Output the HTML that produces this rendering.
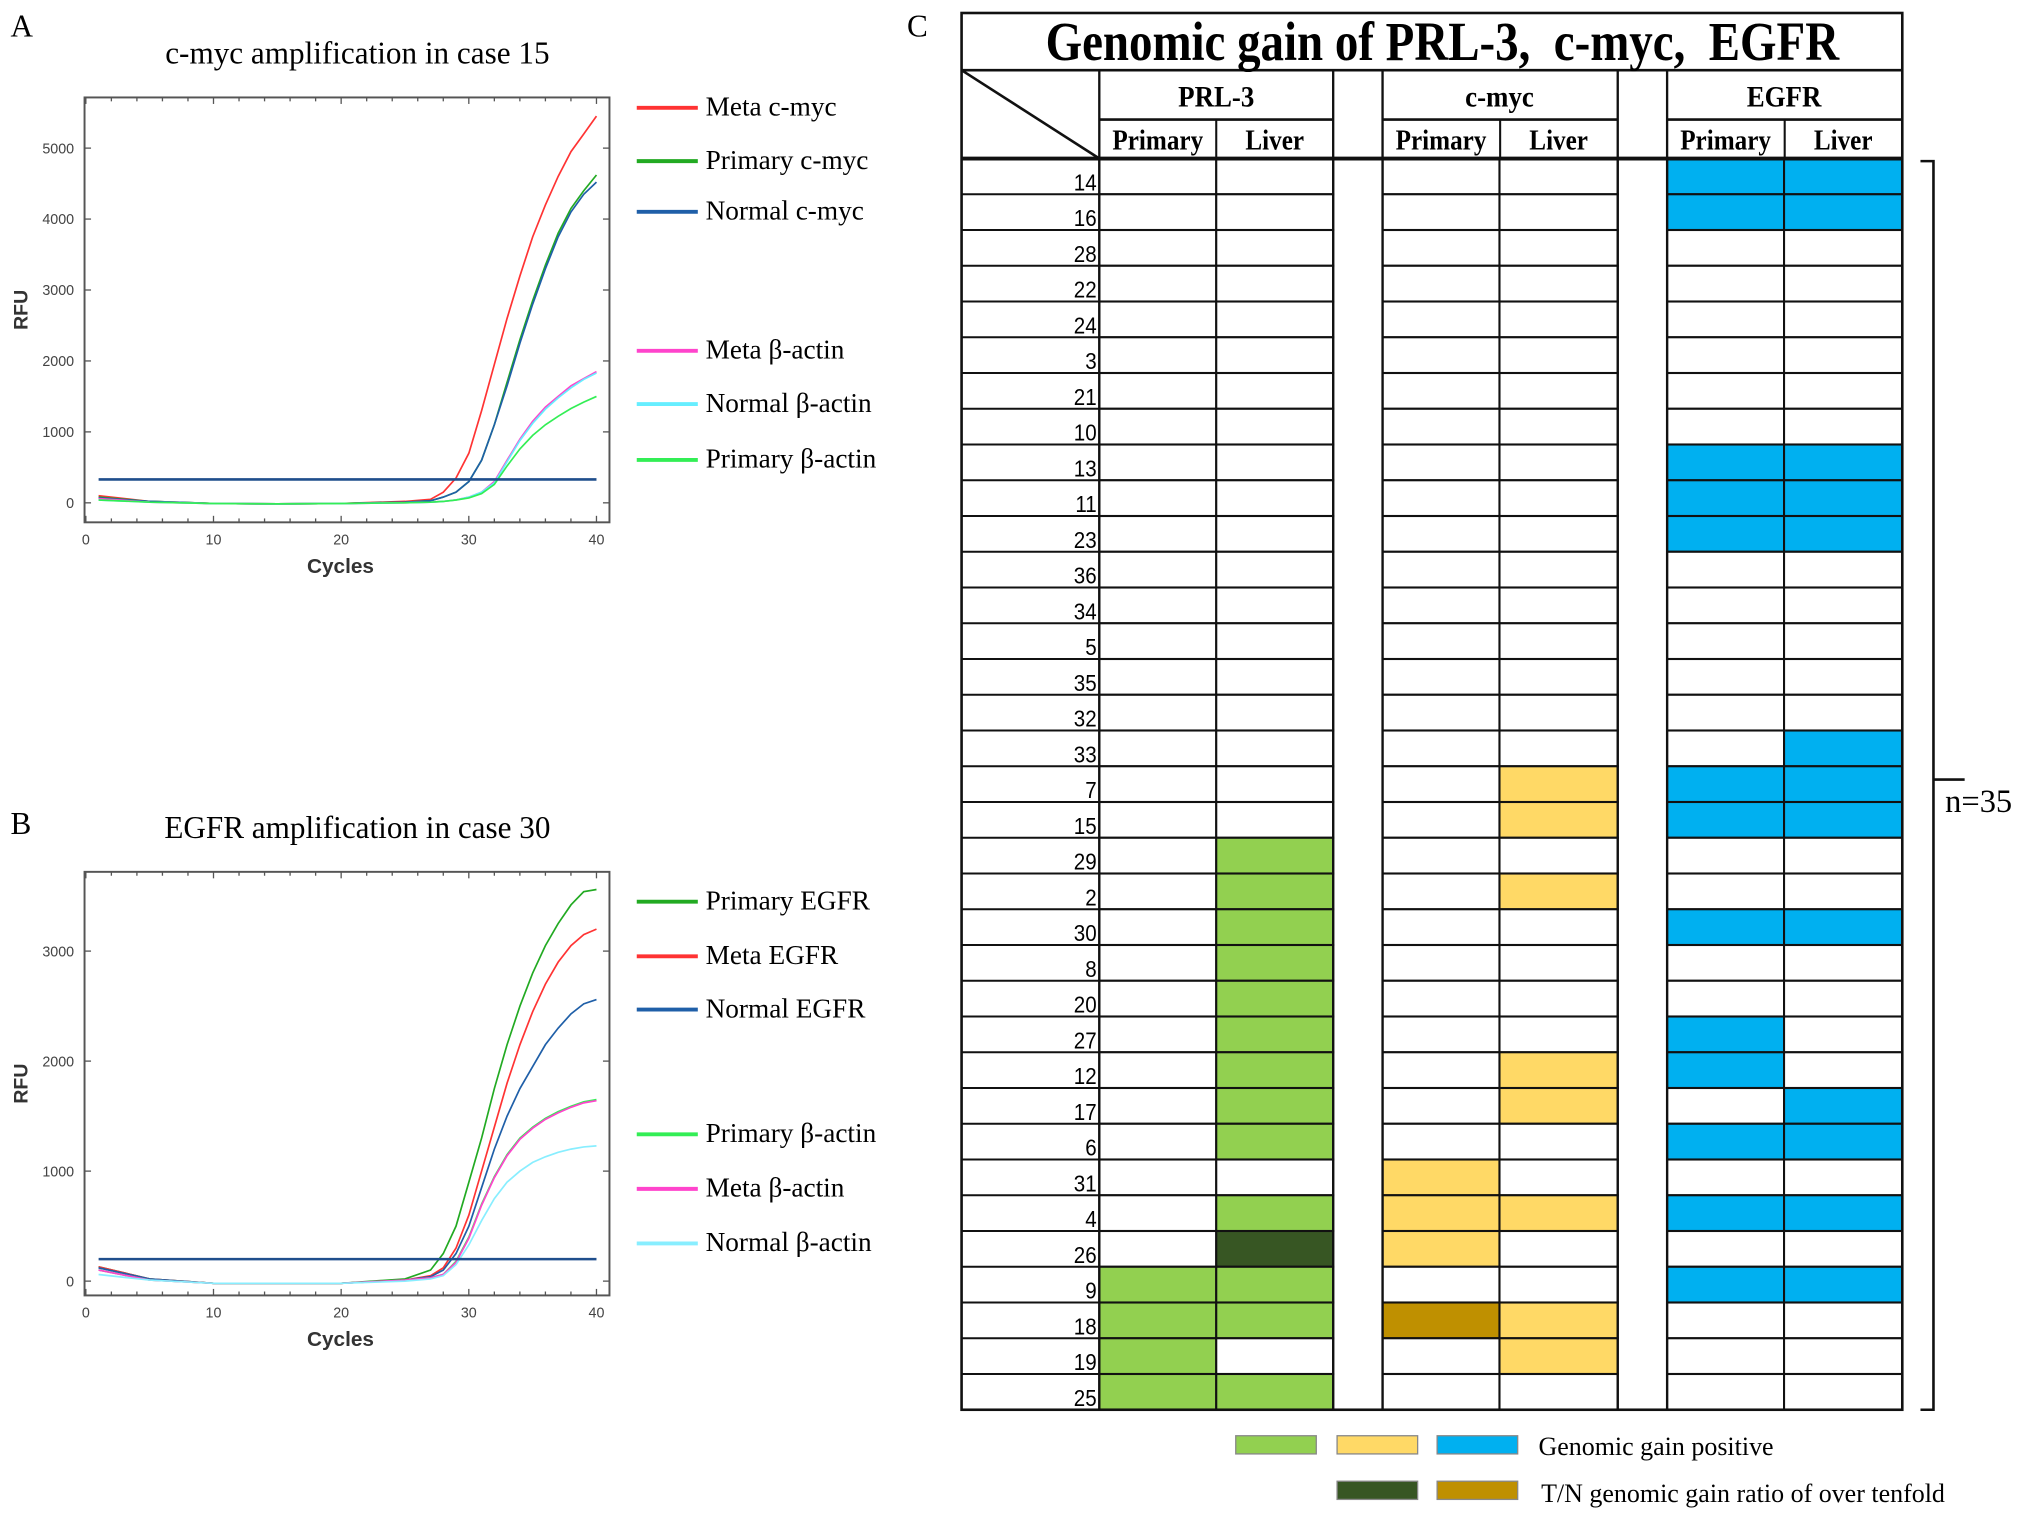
<!DOCTYPE html>
<html><head><meta charset="utf-8"><style>
html,body{margin:0;padding:0;background:#fff;}
svg{display:block;}
.serif{font-family:"Liberation Serif",serif;}
.sans{font-family:"Liberation Sans",sans-serif;}
</style></head><body>
<svg id="fig" width="2031" height="1515" viewBox="0 0 1563 1166" xmlns="http://www.w3.org/2000/svg">
<rect width="1563" height="1166" fill="#fff"/>
<text class="serif" x="8" y="28" font-size="24">A</text>
<text class="serif" x="8" y="642" font-size="24">B</text>
<text class="serif" x="698" y="28" font-size="24">C</text>
<text class="serif" x="275" y="49" font-size="24" text-anchor="middle">c-myc amplification in case 15</text>
<text class="serif" x="275" y="645" font-size="24" text-anchor="middle">EGFR amplification in case 30</text>
<g id="chartA"></g>
<g id="chartB"></g>
<g id="table"></g>
</svg>
<script>
const NS="http://www.w3.org/2000/svg";
function mk(parent,tag,attrs,text){const e=document.createElementNS(NS,tag);for(const k in attrs)e.setAttribute(k,attrs[k]);if(text!==undefined)e.textContent=text;parent.appendChild(e);return e;}

// ---- chart data ----
const cycles=[1,5,10,15,20,25,27,28,29,30,31,32,33,34,35,36,37,38,39,40];
const aNames=["Meta c-myc","Primary c-myc","Normal c-myc","Meta β-actin","Normal β-actin","Primary β-actin"];
const aColors=["#ff3333","#22aa22","#1f5fa8","#ff44cc","#66eeff","#33ee55"];
const aMetaMyc=[100,20,-10,-15,-10,20,50,150,350,700,1300,1950,2600,3200,3750,4200,4600,4950,5200,5450];
const aPrimMyc=[80,20,-10,-15,-10,10,30,80,150,300,600,1100,1700,2300,2850,3350,3800,4150,4400,4620];
const aNormMyc=[70,20,-10,-15,-10,10,30,80,150,300,600,1100,1650,2250,2800,3300,3750,4100,4350,4520];
const aMetaAct=[60,10,-10,-15,-10,0,10,20,40,80,150,300,600,900,1150,1350,1500,1650,1750,1850];
const aNormAct=[40,10,-10,-15,-10,0,10,20,40,80,150,280,580,880,1120,1320,1480,1620,1740,1830];
const aPrimAct=[40,10,-10,-15,-10,0,10,20,40,70,130,260,520,760,950,1100,1220,1330,1420,1500];
const aThreshold=330;
const aYTicks=[0,1000,2000,3000,4000,5000];

const bNames=["Primary EGFR","Meta EGFR","Normal EGFR","Primary β-actin","Meta β-actin","Normal β-actin"];
const bColors=["#22aa22","#ff3333","#1f5fa8","#33ee55","#ff44cc","#88eeff"];
const bPrimEgfr=[130,20,-20,-20,-20,20,100,250,500,900,1300,1750,2150,2500,2800,3050,3250,3420,3540,3560];
const bMetaEgfr=[130,20,-20,-20,-20,10,50,120,300,600,1000,1400,1800,2150,2450,2700,2900,3050,3150,3200];
const bNormEgfr=[120,20,-20,-20,-20,10,40,100,250,500,850,1200,1500,1750,1950,2150,2300,2430,2520,2560];
const bPrimAct=[100,10,-20,-20,-20,10,30,60,180,400,700,950,1150,1300,1400,1480,1540,1590,1630,1650];
const bMetaAct=[100,10,-20,-20,-20,10,30,60,170,390,690,940,1140,1290,1390,1470,1530,1580,1620,1640];
const bNormAct=[60,10,-20,-20,-20,0,20,50,150,330,550,750,900,1000,1080,1130,1170,1200,1220,1230];
const bThreshold=200;
const bYTicks=[0,1000,2000,3000];
const xTicks=[0,10,20,30,40];

function drawChart(g,o){
  const xs=c=>66+c*(459-66)/40;
  const ys=v=>o.y0-v*o.ppu;
  mk(g,"rect",{x:65,y:o.top,width:404,height:o.bottom-o.top,fill:"none",stroke:"#555","stroke-width":1.5,});
  for(let c=0;c<=40;c+=2){mk(g,"line",{x1:xs(c),x2:xs(c),y1:o.bottom,y2:o.bottom-(c%10?3:5),stroke:"#555"});mk(g,"line",{x1:xs(c),x2:xs(c),y1:o.top,y2:o.top+(c%10?3:5),stroke:"#555"});}
  xTicks.forEach(t=>{const e=mk(g,"text",{x:xs(t),y:o.bottom+17,"font-size":11,"text-anchor":"middle",fill:"#444",class:"sans"},t);
    
    });
  o.yticks.forEach(t=>{mk(g,"line",{x1:65,x2:70,y1:ys(t),y2:ys(t),stroke:"#555"});mk(g,"line",{x1:464,x2:469,y1:ys(t),y2:ys(t),stroke:"#555"});
    const e=mk(g,"text",{x:57,y:ys(t)+4,"font-size":11,"text-anchor":"end",fill:"#444",class:"sans"},t);
    
    });
  const xl=mk(g,"text",{x:262,y:o.bottom+39,"font-size":16,"font-weight":"bold","text-anchor":"middle",fill:"#333",class:"sans"},"Cycles");
  
  const yl=mk(g,"text",{x:0,y:0,"font-size":15,"font-weight":"bold","text-anchor":"middle",fill:"#333",class:"sans",transform:`translate(21,${(o.top+o.bottom)/2}) rotate(-90)`},"RFU");
  
  o.series.forEach((s,i)=>{
    const d=s.map((v,j)=>(j?"L":"M")+xs(cycles[j]).toFixed(1)+","+ys(v).toFixed(1)).join("");
    const p=mk(g,"path",{d:d,fill:"none",stroke:o.colors[i],"stroke-width":1.3});
    
  });
  const th=mk(g,"line",{x1:xs(1),x2:xs(40),y1:ys(o.thr),y2:ys(o.thr),stroke:"#1f4e8c","stroke-width":2});
  
  o.names.forEach((n,i)=>{
    const y=o.legY[i];
    const lg=mk(g,"g",{});
    
    mk(lg,"line",{x1:490,x2:537,y1:y,y2:y,stroke:o.colors[i],"stroke-width":3});
    mk(lg,"text",{x:543,y:y+6,"font-size":21,class:"serif"},n);
  });
}
drawChart(document.getElementById("chartA"),{top:75,bottom:402,y0:387,ppu:(387-114)/5000,yticks:aYTicks,
  series:[aMetaMyc,aPrimMyc,aNormMyc,aMetaAct,aNormAct,aPrimAct],colors:aColors,names:aNames,thr:aThreshold,legY:[83,124,163,270,311,354]});
drawChart(document.getElementById("chartB"),{top:671,bottom:997,y0:986,ppu:(986-732)/3000,yticks:bYTicks,
  series:[bPrimEgfr,bMetaEgfr,bNormEgfr,bPrimAct,bMetaAct,bNormAct],colors:bColors,names:bNames,thr:bThreshold,legY:[694,736,777,873,915,957]});

// ---- table data ----
const caseIds=[14,16,28,22,24,3,21,10,13,11,23,36,34,5,35,32,33,7,15,29,2,30,8,20,27,12,17,6,31,4,26,9,18,19,25];
const prlPrimary=[0,0,0,0,0,0,0,0,0,0,0,0,0,0,0,0,0,0,0,0,0,0,0,0,0,0,0,0,0,0,0,1,1,1,1];
const prlLiver  =[0,0,0,0,0,0,0,0,0,0,0,0,0,0,0,0,0,0,0,1,1,1,1,1,1,1,1,1,0,1,2,1,1,0,1];
const mycPrimary=[0,0,0,0,0,0,0,0,0,0,0,0,0,0,0,0,0,0,0,0,0,0,0,0,0,0,0,0,3,3,3,0,4,0,0];
const mycLiver  =[0,0,0,0,0,0,0,0,0,0,0,0,0,0,0,0,0,3,3,0,3,0,0,0,0,3,3,0,0,3,0,0,3,3,0];
const egfrPrimary=[5,5,0,0,0,0,0,0,5,5,5,0,0,0,0,0,0,5,5,0,0,5,0,0,5,5,0,5,0,5,0,5,0,0,0];
const egfrLiver  =[5,5,0,0,0,0,0,0,5,5,5,0,0,0,0,0,5,5,5,0,0,5,0,0,0,0,5,5,0,5,0,5,0,0,0];
const fillColors=["#ffffff","#92d050","#375623","#ffd966","#bf9000","#00b0f0"];

const T=document.getElementById("table");
const L=740,R=1464,top0=10,titleB=54,subB=92,rowTop=122,rowH=(1085-122)/35;
const cols=[[846,936,prlPrimary],[936,1026,prlLiver],[1064,1154,mycPrimary],[1154,1245,mycLiver],[1283,1373,egfrPrimary],[1373,1464,egfrLiver]];
caseIds.forEach((id,r)=>{
  const y=rowTop+r*rowH;
  const lab=mk(T,"text",{x:844,y:y+rowH-3,"font-size":18,"text-anchor":"end",class:"sans",transform:`translate(${844*0.12},0) scale(0.88,1)`},id);
  
  cols.forEach(c=>{
    const cell=mk(T,"rect",{x:c[0],y:y,width:c[1]-c[0],height:rowH,fill:fillColors[c[2][r]],stroke:"#111","stroke-width":1.6});
    
  });
  mk(T,"line",{x1:L,x2:846,y1:y+rowH,y2:y+rowH,stroke:"#111","stroke-width":1.6});
});
mk(T,"rect",{x:L,y:top0,width:R-L,height:1085-top0,fill:"none",stroke:"#111","stroke-width":2});
mk(T,"line",{x1:L,x2:R,y1:titleB,y2:titleB,stroke:"#111","stroke-width":2});
mk(T,"line",{x1:L,x2:R,y1:rowTop,y2:rowTop,stroke:"#111","stroke-width":3});
mk(T,"line",{x1:L,x2:846,y1:titleB,y2:rowTop,stroke:"#111","stroke-width":2});
[846,1026,1064,1245,1283].forEach(x=>mk(T,"line",{x1:x,x2:x,y1:titleB,y2:1085,stroke:"#111","stroke-width":1.8}));
[[846,1026],[1064,1245],[1283,1464]].forEach(s=>{mk(T,"line",{x1:s[0],x2:s[1],y1:subB,y2:subB,stroke:"#111","stroke-width":2});mk(T,"line",{x1:(s[0]+s[1])/2,x2:(s[0]+s[1])/2,y1:subB,y2:rowTop,stroke:"#111","stroke-width":1.6});});
const tt=mk(T,"text",{x:0,y:0,"font-size":42,"font-weight":"bold","text-anchor":"middle",class:"serif",transform:"translate(1110,46) scale(0.86,1)"},"Genomic gain of PRL-3,\u00a0\u00a0c-myc,\u00a0\u00a0EGFR");

[["PRL-3",936],["c-myc",1154],["EGFR",1373]].forEach(g=>{const e=mk(T,"text",{x:0,y:0,"font-size":23,"font-weight":"bold","text-anchor":"middle",class:"serif",transform:`translate(${g[1]},82) scale(0.9,1)`},g[0]);
  });
[[846,936],[936,1026],[1064,1154],[1154,1245],[1283,1373],[1373,1464]].forEach((c,i)=>{const e=mk(T,"text",{x:0,y:0,"font-size":22,"font-weight":"bold","text-anchor":"middle",class:"serif",transform:`translate(${(c[0]+c[1])/2},115) scale(0.88,1)`},i%2?"Liver":"Primary");
  });
const br=mk(T,"path",{d:"M1478,124 H1488 V1085 H1478 M1488,600 H1512",fill:"none",stroke:"#111","stroke-width":2});

const nl=mk(T,"text",{x:1497,y:625,"font-size":25,class:"serif"},"n=35");

[[951,1105,1],[1029,1105,3],[1106,1105,5],[1029,1140,2],[1106,1140,4]].forEach(b=>{const e=mk(T,"rect",{x:b[0],y:b[1],width:62,height:14,fill:fillColors[b[2]],stroke:"#888","stroke-width":1});
  });
const l1=mk(T,"text",{x:1184,y:1120,"font-size":20,class:"serif"},"Genomic gain positive");

const l2=mk(T,"text",{x:1186,y:1156,"font-size":20,class:"serif"},"T/N genomic gain ratio of over tenfold");

</script>
</body></html>
